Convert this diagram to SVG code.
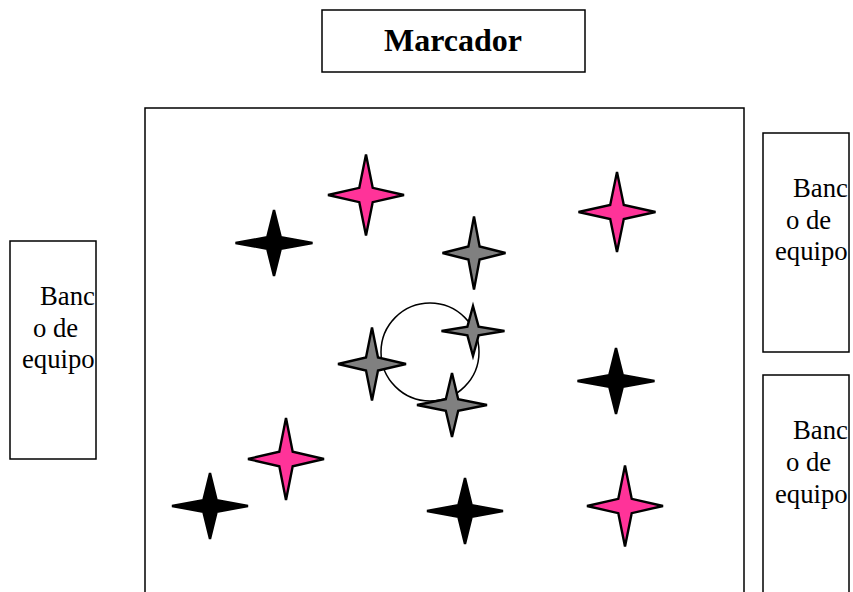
<svg xmlns="http://www.w3.org/2000/svg" width="853" height="592" viewBox="0 0 853 592">
<style>
.box{fill:#fff;stroke:#000;stroke-width:1.5}
.t{font-family:"Liberation Serif","Times New Roman",serif;font-size:26.7px;fill:#000}
.title{font-family:"Liberation Serif","Times New Roman",serif;font-size:32px;font-weight:bold;fill:#000;text-anchor:middle}
.star{stroke:#000;stroke-width:2.4;stroke-linejoin:miter}
.pink{fill:#FF3399}
.gray{fill:#808080}
.black{fill:#000}
</style>
<rect width="853" height="592" fill="#fff"/>
<g id="marcador">
<rect class="box" x="322" y="10" width="263" height="62"/>
<text class="title" x="453" y="51">Marcador</text>
</g>
<g id="campo">
<rect class="box" x="145" y="108" width="599" height="500"/>
</g>
<g id="banco-izq">
<rect class="box" x="10" y="241" width="86" height="218"/>
<text class="t" x="40" y="305">Banc</text>
<text class="t" x="33" y="337">o de</text>
<text class="t" x="22" y="368">equipo</text>
</g>
<g id="banco-der-1">
<rect class="box" x="763" y="133" width="86" height="219"/>
<text class="t" x="793" y="197">Banc</text>
<text class="t" x="786" y="229">o de</text>
<text class="t" x="775" y="260">equipo</text>
</g>
<g id="banco-der-2">
<rect class="box" x="763" y="375" width="86" height="230"/>
<text class="t" x="793" y="439">Banc</text>
<text class="t" x="786" y="471">o de</text>
<text class="t" x="775" y="503">equipo</text>
</g>
<g id="circulo">
<circle cx="430" cy="352" r="49" fill="#fff" stroke="#000" stroke-width="1.5"/>
</g>
<g id="connectors"></g>
<g id="estrella-rosa-1"><polygon class="star pink" points="366,154.5 372.7,187.8 404,195 372.7,202.2 366,235.5 359.3,202.2 328,195 359.3,187.8"/></g>
<g id="estrella-rosa-2"><polygon class="star pink" points="617,172 623.8,204.9 655.5,212 623.8,219.1 617,252 610.2,219.1 578.5,212 610.2,204.9"/></g>
<g id="estrella-negra-1"><polygon class="star black" points="274,210 280.8,237.2 312.5,243 280.8,248.8 274,276 267.2,248.8 235.5,243 267.2,237.2"/></g>
<g id="estrella-gris-1"><polygon class="star gray" points="474,216.5 479.6,246.5 505.5,253 479.6,259.5 474,289.5 468.4,259.5 442.5,253 468.4,246.5"/></g>
<g id="estrella-gris-2"><polygon class="star gray" points="473,306 478.6,326.6 504.5,331 478.6,335.4 473,356 467.4,335.4 441.5,331 467.4,326.6"/></g>
<g id="estrella-gris-3"><polygon class="star gray" points="372,327.5 378,357.5 406,364 378,370.5 372,400.5 366,370.5 338,364 366,357.5"/></g>
<g id="estrella-gris-4"><polygon class="star gray" points="452,373 458.2,399.3 487,405 458.2,410.7 452,437 445.8,410.7 417,405 445.8,399.3"/></g>
<g id="estrella-negra-2"><polygon class="star black" points="616,348 622.8,375.2 654.5,381 622.8,386.8 616,414 609.2,386.8 577.5,381 609.2,375.2"/></g>
<g id="estrella-rosa-3"><polygon class="star pink" points="286,418 292.7,451.7 324,459 292.7,466.3 286,500 279.3,466.3 248,459 279.3,451.7"/></g>
<g id="estrella-negra-3"><polygon class="star black" points="210,473 216.7,500.2 248,506 216.7,511.8 210,539 203.3,511.8 172,506 203.3,500.2"/></g>
<g id="estrella-negra-4"><polygon class="star black" points="465,478 471.7,505.2 503,511 471.7,516.8 465,544 458.3,516.8 427,511 458.3,505.2"/></g>
<g id="estrella-rosa-4"><polygon class="star pink" points="625,465.5 631.7,498.8 663,506 631.7,513.2 625,546.5 618.3,513.2 587,506 618.3,498.8"/></g>
</svg>
